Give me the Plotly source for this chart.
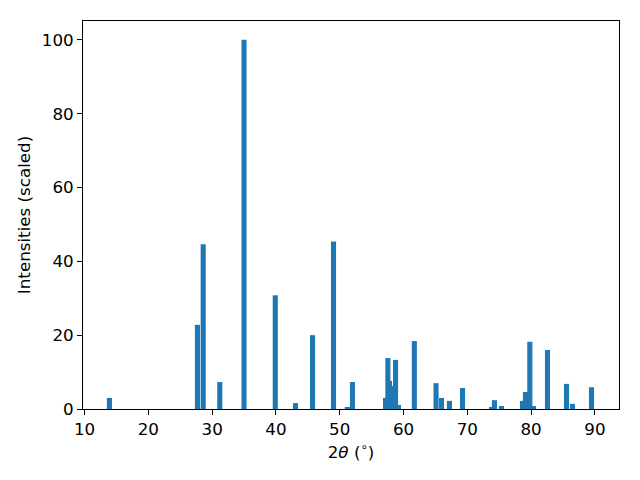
import plotly.graph_objects as go

two_theta = [13.9, 27.7, 28.6, 31.2, 35.0, 39.9, 43.07, 45.74, 49.03, 51.2, 52.0,
             57.18, 57.55, 57.8, 58.3, 58.75, 59.2, 61.7, 65.1, 65.96, 67.2, 69.25,
             73.8, 74.26, 75.36, 78.65, 79.12, 79.8, 80.38, 82.57, 85.55, 86.49, 89.47]
intensities = [3.0, 22.8, 44.6, 7.3, 100.0, 30.8, 1.6, 20.0, 45.4, 0.5, 7.3,
               3.0, 13.8, 7.6, 6.2, 13.3, 1.1, 18.4, 7.0, 3.0, 2.2, 5.7,
               0.3, 2.4, 0.8, 2.2, 4.6, 18.2, 0.8, 16.0, 6.8, 1.4, 5.9]
x_ticks = [10, 20, 30, 40, 50, 60, 70, 80, 90]
y_ticks = [0, 20, 40, 60, 80, 100]

FONT = dict(family="DejaVu Sans", size=16.7, color="black")

fig = go.Figure()
fig.add_trace(go.Bar(
    x=two_theta, y=intensities, width=0.8,
    marker=dict(color="#1f77b4", line=dict(width=0)),
))

axis_common = dict(
    showline=True, linecolor="black", linewidth=1, mirror=True,
    ticks="outside", ticklen=5, tickwidth=1, tickcolor="black",
    showgrid=False, zeroline=False,
    tickfont=FONT,
)
fig.update_xaxes(range=[9.76, 93.78], tickvals=x_ticks,
                 title=dict(text="2<i>θ</i> (<sup>∘</sup>)", font=FONT, standoff=8),
                 **axis_common)
fig.update_yaxes(range=[0, 105.1], tickvals=y_ticks,
                 title=dict(text="Intensities (scaled)", font=FONT, standoff=6),
                 **axis_common)
# page body has an 8px margin; shift the figure accordingly
fig.update_layout(
    width=624, height=464,
    margin=dict(l=75, r=13, t=13, b=63),
    plot_bgcolor="white", paper_bgcolor="white",
    showlegend=False, barmode="overlay",
)
fig.write_html("out.html")
